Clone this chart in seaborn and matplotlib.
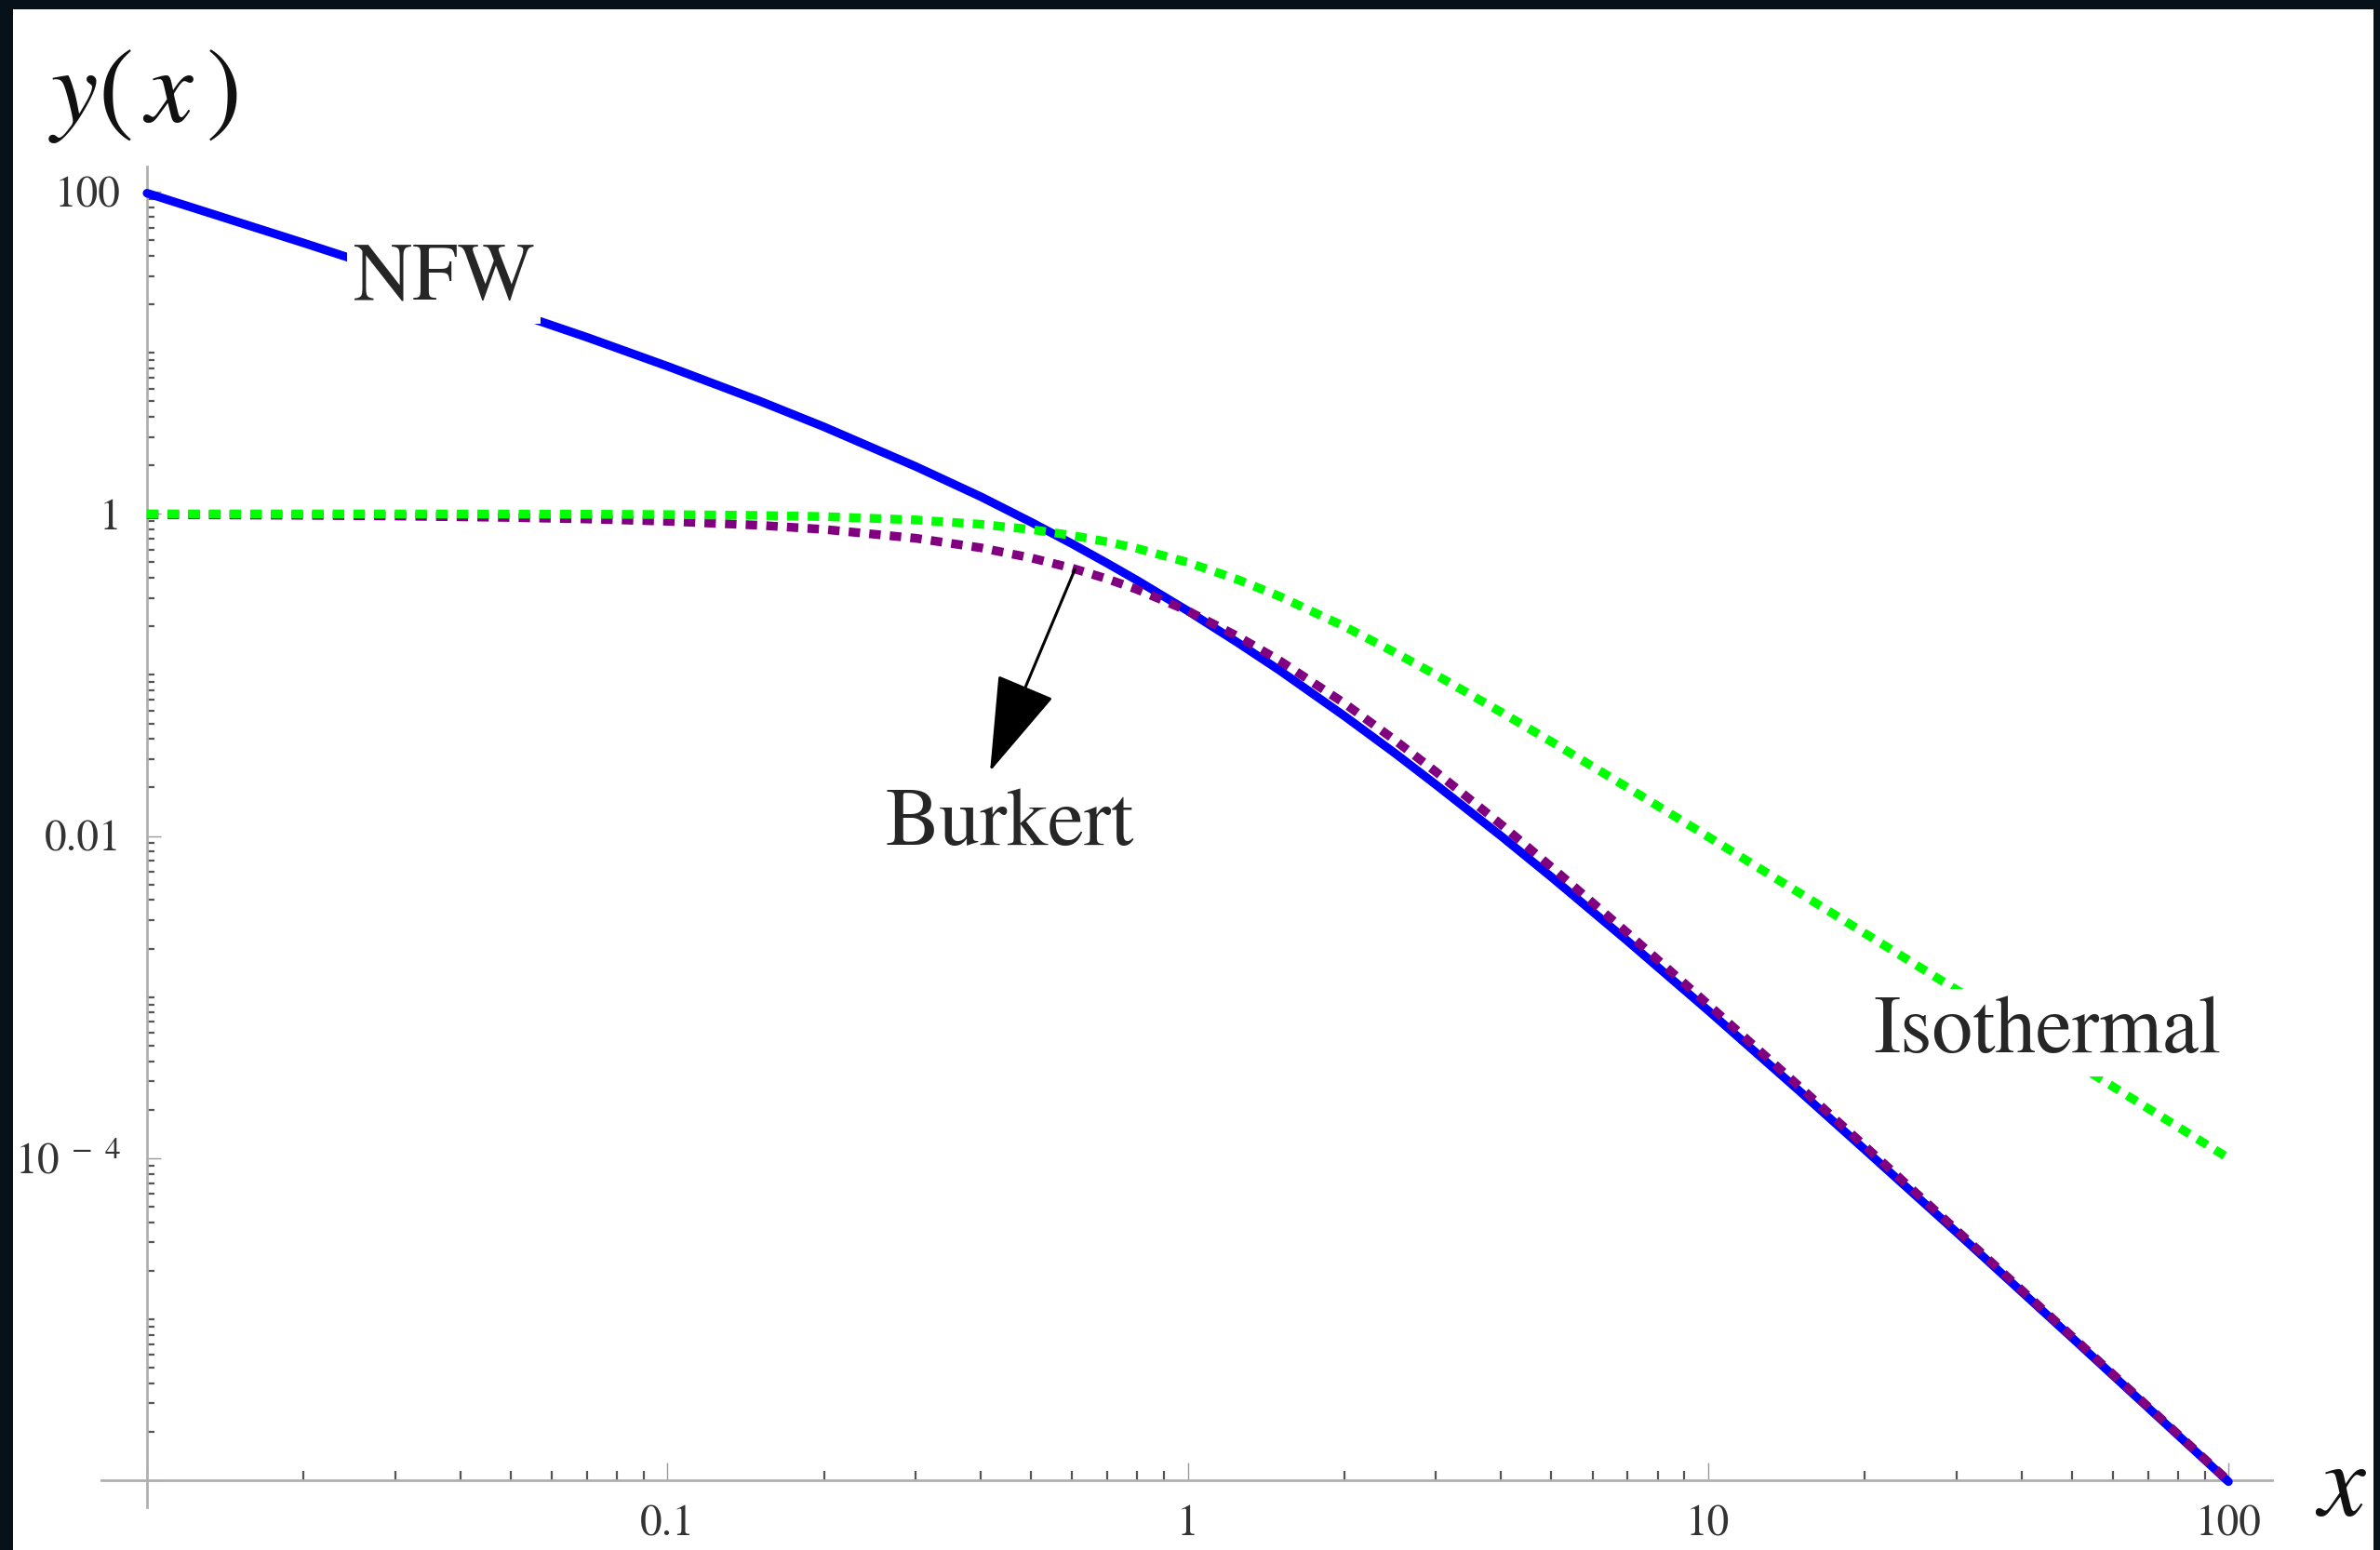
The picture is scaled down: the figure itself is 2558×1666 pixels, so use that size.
import numpy as np
import pandas as pd
import matplotlib
matplotlib.use("Agg")
import matplotlib.pyplot as plt
from matplotlib.patches import Rectangle
from matplotlib.ticker import FixedLocator, NullFormatter
import seaborn as sns

# values at fixed radii
x_vals = [0.01, 0.02, 0.03, 0.05, 0.07, 0.1, 0.15, 0.2, 0.3, 0.4, 0.5, 0.6, 0.7, 0.8,
          1, 1.25, 1.5, 2, 2.5, 3, 4, 5, 7, 10, 15, 20, 30, 50, 70, 100]
nfw = [98.0, 48.1, 31.4, 18.1, 12.5, 8.26, 5.04, 3.47, 1.97, 1.28, 0.889, 0.651, 0.494, 0.386,
       0.25, 0.158, 0.107, 0.0556, 0.0327, 0.0208, 0.01, 0.00556, 0.00223, 8.26e-4, 2.60e-4,
       1.13e-4, 3.47e-5, 7.69e-6, 2.83e-6, 9.80e-7]
burkert = [0.990, 0.980, 0.970, 0.950, 0.930, 0.900, 0.850, 0.801, 0.706, 0.616, 0.533, 0.460,
           0.395, 0.339, 0.25, 0.173, 0.123, 0.0667, 0.0394, 0.025, 0.0118, 0.00641, 0.0025,
           9.00e-4, 2.77e-4, 1.19e-4, 3.58e-5, 7.84e-6, 2.87e-6, 9.90e-7]
isothermal = [1.0, 0.9996, 0.9991, 0.9975, 0.9951, 0.990, 0.978, 0.962, 0.917, 0.862, 0.800,
              0.735, 0.671, 0.610, 0.5, 0.390, 0.308, 0.2, 0.138, 0.1, 0.0588, 0.0385, 0.02,
              0.0099, 0.00442, 0.00249, 0.00111, 4.00e-4, 2.04e-4, 1.00e-4]

x_ticks = [0.01, 0.1, 1, 10, 100]
x_ticklabels = ["", "0.1", "1", "10", "100"]
y_ticks = [1e-6, 1e-4, 1e-2, 1, 100]
y_ticklabels = ["", r"$10^{\ -\ 4}$", "0.01", "1", "100"]

df = pd.DataFrame({"x": x_vals, "NFW": nfw, "Burkert": burkert, "Isothermal": isothermal})


def minor_ticks(lo_exp, hi_exp):
    # 2..9 times each decade, plus unlabeled decades, kept inside the plotted range
    out = []
    for e in range(lo_exp, hi_exp):
        out += [m * 10.0 ** e for m in range(1, 10)]
    return out[1:]


sns.set_style("white")
plt.rcParams["font.family"] = ["STIXGeneral", "DejaVu Serif"]
plt.rcParams["mathtext.fontset"] = "stix"

fig = plt.figure(figsize=(25.58, 16.66), dpi=100, facecolor="#06111a")
fig.patches.append(Rectangle((14 / 2558, 0), (2551 - 14) / 2558, (1666 - 10) / 1666,
                             transform=fig.transFigure, facecolor="white", edgecolor="none",
                             zorder=-5))
ax = fig.add_axes([0.0426, 0.0276, 0.9121, 0.8649])
ax.set_facecolor("none")

dots = (0, (1.3, 1.05))
sns.lineplot(data=df, x="x", y="NFW", ax=ax, color="#0000ff", lw=6.6, zorder=3)
sns.lineplot(data=df, x="x", y="Burkert", ax=ax, color="#800080", lw=6.8,
             linestyle=dots, dash_capstyle="butt", zorder=4)
sns.lineplot(data=df, x="x", y="Isothermal", ax=ax, color="#00ff00", lw=6.8,
             linestyle=dots, dash_capstyle="butt", zorder=5)

ax.set_xscale("log")
ax.set_yscale("log")
ax.set_xlim(10 ** -2.0876, 10 ** 2.084)
ax.set_ylim(10 ** -6.1675, 10 ** 2.156)

# Mathematica-style axes crossing at the origin of the data range
for side in ["top", "right"]:
    ax.spines[side].set_visible(False)
ax.spines["left"].set_position(("data", 0.01))
ax.spines["bottom"].set_position(("data", 1e-6))
for side in ["left", "bottom"]:
    ax.spines[side].set_color("#b0b0b0")
    ax.spines[side].set_linewidth(2)

ax.xaxis.set_major_locator(FixedLocator(x_ticks))
ax.set_xticklabels(x_ticklabels)
ax.yaxis.set_major_locator(FixedLocator(y_ticks))
ax.set_yticklabels(y_ticklabels)
ax.xaxis.set_minor_locator(FixedLocator(minor_ticks(-2, 2)))
ax.yaxis.set_minor_locator(FixedLocator(minor_ticks(-6, 2)))
ax.xaxis.set_minor_formatter(NullFormatter())
ax.yaxis.set_minor_formatter(NullFormatter())
ax.tick_params(which="both", bottom=True, left=True, top=False, right=False)
ax.tick_params(axis="x", which="major", direction="in", length=14, width=1.0,
               color="#999999", labelsize=34, labelcolor="#333333", pad=19)
ax.tick_params(axis="x", which="minor", direction="in", length=7, width=1.6, color="#555555")
ax.tick_params(axis="y", which="major", direction="in", length=11, width=1.0,
               color="#999999", labelsize=34, labelcolor="#333333", pad=20)
ax.tick_params(axis="y", which="minor", direction="in", length=6, width=1.6, color="#555555")
ax.set_xlabel("")
ax.set_ylabel("")

box = dict(boxstyle="square,pad=0.08", facecolor="white", edgecolor="none")
ax.text(0.0372, 28.3, "NFW", fontsize=63, ha="center", va="center", bbox=box, zorder=6)
ax.text(0.455, 0.0116, "Burkert", fontsize=63, ha="center", va="center", zorder=6)
ax.text(44.8, 6.0e-4, "Isothermal", fontsize=63, ha="center", va="center", bbox=box, zorder=6)
ax.annotate("", xy=(0.417, 0.0252), xytext=(0.607, 0.452),
            arrowprops=dict(arrowstyle="-|>,head_length=0.66,head_width=0.21",
                            mutation_scale=100, color="black", lw=2.2,
                            shrinkA=0, shrinkB=0), zorder=7)

fig.text(0.060, 0.938, r"$y(\,x\,)$", fontsize=82, ha="center", va="center", color="#111111")
fig.text(0.9836, 0.0384, r"$x$", fontsize=82, ha="center", va="center", color="#111111")

fig.savefig("out.png", dpi=100, facecolor=fig.get_facecolor())
